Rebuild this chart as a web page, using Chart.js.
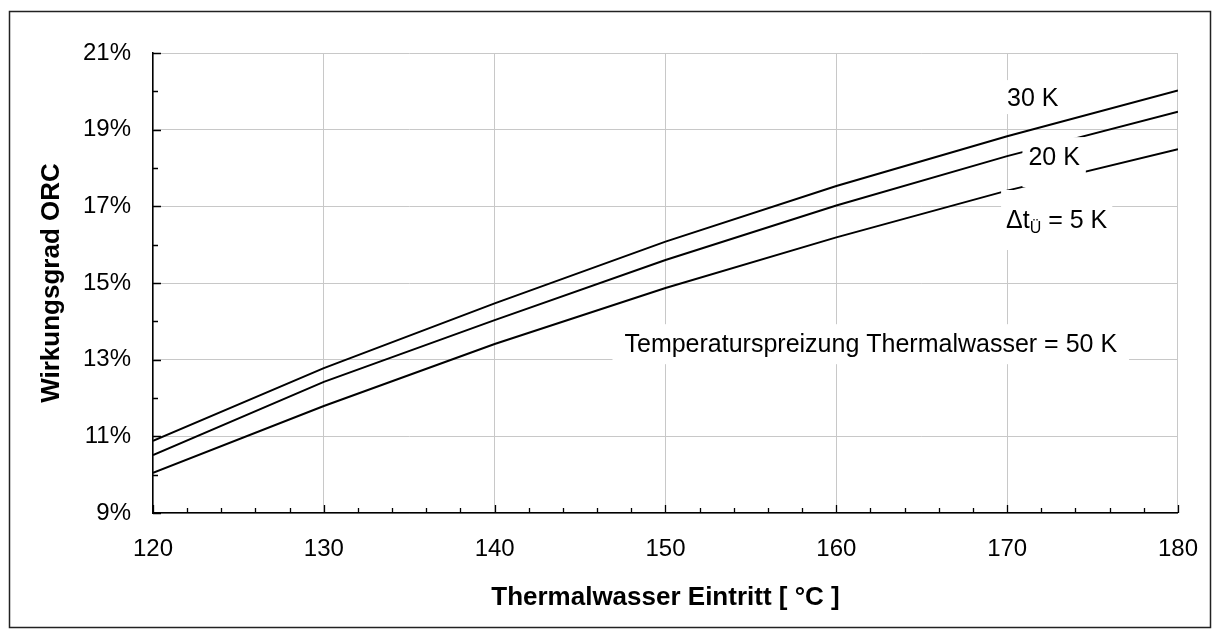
<!DOCTYPE html>
<html>
<head>
<meta charset="utf-8">
<script src="https://cdn.jsdelivr.net/npm/chart.js@4/dist/chart.umd.min.js"></script>
<style>
  html, body { margin: 0; padding: 0; background: #fff; }
  #wrap { width: 1220px; height: 637px; position: relative; }
</style>
</head>
<body>
<div id="wrap"><canvas id="orc-chart"></canvas></div>
<script>
// Thermalwasser-Eintrittstemperatur [°C]
const temperatures = [120, 130, 140, 150, 160, 170, 180];

// Wirkungsgrad ORC [%] je Grädigkeit dt_Ü
const eta30K = [10.88, 12.78, 14.47, 16.08, 17.53, 18.83, 20.02];
const eta20K = [10.51, 12.42, 14.03, 15.60, 17.02, 18.31, 19.47];
const eta5K = [10.05, 11.79, 13.41, 14.87, 16.19, 17.41, 18.49];

const yTicks = [9, 11, 13, 15, 17, 19, 21];
const xTicks = [120, 130, 140, 150, 160, 170, 180];

const FONT = "'Liberation Sans', Arial, sans-serif";

const toPoints = (values) =>
  values.map((v, i) => ({ x: temperatures[i], y: v }));

// white frame around the whole chart
const frame = {
  id: "frame",
  beforeDraw(chart) {
    const ctx = chart.ctx;
    ctx.save();
    ctx.fillStyle = "#fff";
    ctx.fillRect(0, 0, chart.width, chart.height);
    ctx.strokeStyle = "#222";
    ctx.lineWidth = 1.5;
    ctx.strokeRect(9.5, 11.5, 1201, 616);
    ctx.restore();
  },
};

// tick marks pointing into the plot, major + minor
const innerTicks = {
  id: "innerTicks",
  afterDraw(chart) {
    const { ctx, chartArea } = chart;
    const x = chart.scales.x;
    const y = chart.scales.y;
    ctx.save();
    ctx.strokeStyle = "#000";
    ctx.lineWidth = 1.3;
    ctx.beginPath();
    for (let v = 120; v <= 180; v += 2) {
      const px = Math.round(x.getPixelForValue(v)) + 0.5;
      const len = v % 10 === 0 ? 8 : 5;
      ctx.moveTo(px, chartArea.bottom);
      ctx.lineTo(px, chartArea.bottom - len);
    }
    for (let v = 9; v <= 21; v += 1) {
      const py = Math.round(y.getPixelForValue(v)) + 0.5;
      const len = v % 2 === 1 ? 8 : 5;
      ctx.moveTo(chartArea.left, py);
      ctx.lineTo(chartArea.left + len, py);
    }
    ctx.stroke();
    ctx.restore();
  },
};

// curve labels with white boxes, positioned in data units
const curveLabels = [
  { text: "30 K", x: 171.5, y: 19.85, align: "center", box: [6, 8, 8] },
  { text: "20 K", x: 172.75, y: 18.31, align: "center", box: [6, 10, 22] },
  { text: "dt", x: 172.9, y: 16.67, align: "center", box: [5, 20, 22] },
  {
    text: "Temperaturspreizung Thermalwasser = 50 K",
    x: 147.6,
    y: 13.43,
    align: "left",
    box: [12, 10, 12],
  },
];

const labelsPlugin = {
  id: "curveLabels",
  afterDatasetsDraw(chart) {
    const ctx = chart.ctx;
    const xs = chart.scales.x;
    const ys = chart.scales.y;
    ctx.save();
    ctx.textBaseline = "alphabetic";
    curveLabels.forEach((lbl) => {
      const px = xs.getPixelForValue(lbl.x);
      const py = ys.getPixelForValue(lbl.y);
      const base = py + 9;
      const [padX, padTop, padBottom] = lbl.box;
      let parts;
      if (lbl.text === "dt") {
        parts = [
          { t: "\u0394t", size: 25, dy: 0 },
          { t: "\u00DC", size: 16, dy: 5 },
          { t: " = 5 K", size: 25, dy: 0 },
        ];
      } else {
        parts = [{ t: lbl.text, size: 25, dy: 0 }];
      }
      let width = 0;
      parts.forEach((p) => {
        ctx.font = p.size + "px " + FONT;
        p.w = ctx.measureText(p.t).width;
        width += p.w;
      });
      const left = lbl.align === "center" ? px - width / 2 : px;
      ctx.fillStyle = "#fff";
      ctx.fillRect(
        left - padX,
        base - 18 - padTop,
        width + 2 * padX,
        18 + padTop + padBottom
      );
      ctx.fillStyle = "#000";
      let cx = left;
      parts.forEach((p) => {
        ctx.font = p.size + "px " + FONT;
        ctx.fillText(p.t, cx, base + p.dy);
        cx += p.w;
      });
    });
    ctx.restore();
  },
};

const lineStyle = {
  borderColor: "#000",
  borderWidth: 2,
  pointRadius: 0,
  fill: false,
  tension: 0,
};

new Chart(document.getElementById("orc-chart").getContext("2d"), {
  type: "line",
  data: {
    datasets: [
      { label: "30 K", data: toPoints(eta30K), ...lineStyle },
      { label: "20 K", data: toPoints(eta20K), ...lineStyle },
      { label: "5 K", data: toPoints(eta5K), ...lineStyle },
    ],
  },
  options: {
    responsive: true,
    maintainAspectRatio: false,
    animation: false,
    events: [],
    layout: { padding: { left: 0, top: 53, right: 41, bottom: 0 } },
    plugins: {
      legend: { display: false },
      tooltip: { enabled: false },
    },
    scales: {
      x: {
        type: "linear",
        min: 120,
        max: 180,
        afterFit: (scale) => {
          scale.height = 124;
        },
        afterBuildTicks: (scale) => {
          scale.ticks = xTicks.map((v) => ({ value: v }));
        },
        ticks: {
          color: "#000",
          padding: 22,
          maxRotation: 0,
          font: { family: FONT, size: 24 },
        },
        grid: { color: "#c8c8c8", lineWidth: 1, drawTicks: false },
        border: { display: true, color: "#000", width: 1.5 },
        title: {
          display: true,
          text: "Thermalwasser Eintritt [ \u00B0C ]",
          color: "#000",
          font: { family: FONT, size: 26, weight: "bold" },
          padding: { top: 0, bottom: 24 },
        },
      },
      y: {
        type: "linear",
        min: 9,
        max: 21,
        afterFit: (scale) => {
          scale.width = 153;
        },
        afterBuildTicks: (scale) => {
          scale.ticks = yTicks.map((v) => ({ value: v }));
        },
        ticks: {
          color: "#000",
          padding: 22,
          font: { family: FONT, size: 24 },
          callback: (v) => v + "%",
        },
        grid: { color: "#c8c8c8", lineWidth: 1, drawTicks: false },
        border: { display: true, color: "#000", width: 1.5 },
        title: {
          display: true,
          text: "Wirkungsgrad ORC",
          color: "#000",
          font: { family: FONT, size: 26, weight: "bold" },
          padding: { top: 36, bottom: 0 },
        },
      },
    },
  },
  plugins: [frame, innerTicks, labelsPlugin],
});
</script>
</body>
</html>
